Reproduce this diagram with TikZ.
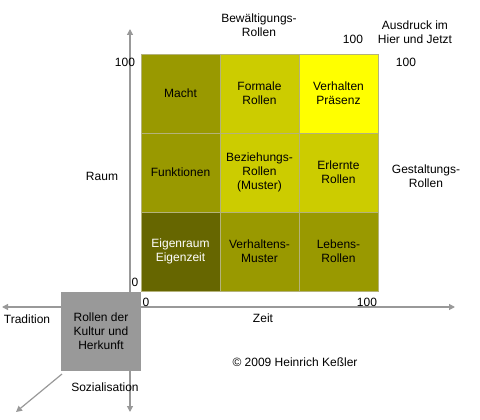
\documentclass[tikz,border=0pt]{standalone}
\usepackage{fontspec}
\setmainfont{Liberation Sans}
\usetikzlibrary{arrows.meta,positioning}
\definecolor{olivedark}{HTML}{666600}
\definecolor{olivemid}{HTML}{999900}
\definecolor{olivelight}{HTML}{CCCC00}
\definecolor{olivebright}{HTML}{FFFF00}
\definecolor{cellline}{HTML}{B4B27A}
\definecolor{axisgray}{HTML}{999999}
\tikzset{
  cellbox/.style={
    rectangle, draw=cellline, fill=#1, thin,
    minimum width=79pt, minimum height=79pt,
    inner sep=0pt, outer sep=0pt,
    font=\fontsize{12}{14}\selectfont, align=center
  },
  cellbox/.default=olivemid,
  kulturbox/.style={
    rectangle, fill=axisgray,
    minimum width=80pt, minimum height=79pt,
    inner sep=0pt, outer sep=0pt,
    font=\fontsize{12}{14}\selectfont, align=center
  },
  axisarrow/.style={
    {Triangle[length=6pt,width=6pt]}-{Triangle[length=6pt,width=6pt]},
    line width=1.2pt, color=axisgray
  },
  diagarrow/.style={
    -{Triangle[length=6pt,width=6pt]}, line width=1.2pt, color=axisgray
  },
  labelnode/.style={
    font=\fontsize{12}{14}\selectfont, align=center, inner sep=0pt
  },
}

\begin{document}
\begin{tikzpicture}[x=1pt, y=-1pt]
  \useasboundingbox (0,0) rectangle (480,420);

  % axes
  \coordinate (ytop) at (130,29);
  \coordinate (ybot) at (130,412);
  \coordinate (xleft) at (2,307);
  \coordinate (xright) at (455,307);
  \draw[axisarrow] (ybot) -- (ytop);
  \draw[axisarrow] (xleft) -- (xright);

  % role grid
  \node[cellbox=olivemid, anchor=north west] (macht) at (141,54) {Macht};
  \node[cellbox=olivelight, right=0pt of macht] (formal) {Formale\\Rollen};
  \node[cellbox=olivebright, right=0pt of formal] (praesenz) {Verhalten\\Präsenz};
  \node[cellbox=olivemid, below=0pt of macht] (funktion) {Funktionen};
  \node[cellbox=olivelight, below=0pt of formal] (beziehung)
    {\begin{tabular}{@{}c@{}}Beziehungs-\\Rollen\\(Muster)\end{tabular}};
  \node[cellbox=olivelight, below=0pt of praesenz] (erlernt) {Erlernte\\Rollen};
  \node[cellbox=olivedark, text=white, below=0pt of funktion] (eigen) {Eigenraum\\Eigenzeit};
  \node[cellbox=olivemid, below=0pt of beziehung] (vmuster) {Verhaltens-\\Muster};
  \node[cellbox=olivemid, below=0pt of erlernt] (lebens) {Lebens-\\Rollen};

  % culture box and third axis
  \node[kulturbox, anchor=north east] (kultur) at (141,292) {Rollen der\\Kultur und\\Herkunft};
  \coordinate (diagtip) at (16,412);
  \draw[diagarrow] ([xshift=1pt,yshift=-3pt]kultur.south west) -- (diagtip);

  % labels
  \node[labelnode] (bewaelt) at (259,25) {Bewältigungs-\\Rollen};
  \node[labelnode] (ausdruck) at (415,32) {Ausdruck im\\Hier und Jetzt};
  \node[labelnode] (gestalt) at (426,176) {Gestaltungs-\\Rollen};
  \node[labelnode] (raum) at (102,176) {Raum};
  \node[labelnode] (zeit) at (263,318) {Zeit};
  \node[labelnode] (tradition) at (27,319) {Tradition};
  \node[labelnode] (sozial) at (105,387) {Sozialisation};
  \node[labelnode] (copy) at (295,362) {© 2009 Heinrich Keßler};

  % scale marks
  \node[labelnode] (toptop) at (353,39) {100};
  \node[labelnode] (topright) at (406,62) {100};
  \node[labelnode] (topleft) at (125,62) {100};
  \node[labelnode] (zeroleft) at (135,282) {0};
  \node[labelnode] (zerobot) at (146,302) {0};
  \node[labelnode] (hundredbot) at (367,302) {100};
\end{tikzpicture}
\end{document}
